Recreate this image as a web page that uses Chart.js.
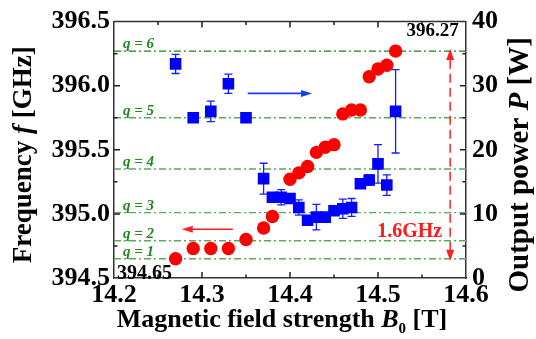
<!DOCTYPE html>
<html><head><meta charset="utf-8">
<script src="https://cdn.jsdelivr.net/npm/chart.js@4"></script>
<style>html,body{margin:0;padding:0;background:#fff}#wrap{width:536px;height:339px}</style>
</head><body><div id="wrap"><canvas id="c" width="536" height="339"></canvas></div>
<script>
// ---- data ----
const freqField = [14.27,14.29,14.31,14.33,14.35,14.37,14.38,14.40,14.41,14.42,14.43,14.44,14.45,14.46,14.47,14.48,14.49,14.50,14.51,14.52];
const freqGHz   = [394.65,394.73,394.73,394.73,394.80,394.89,394.98,395.27,395.32,395.37,395.48,395.52,395.54,395.78,395.81,395.81,396.07,396.13,396.16,396.27];
const powerField = [14.27,14.29,14.31,14.33,14.35,14.37,14.38,14.39,14.40,14.41,14.42,14.43,14.44,14.45,14.46,14.47,14.48,14.49,14.50,14.51,14.52];
const powerW     = [33.4,25.0,26.0,30.3,25.0,15.5,12.6,12.6,12.4,11.0,9.0,9.5,9.5,10.5,10.8,11.0,14.7,15.3,17.8,14.5,26.0];
const powerErr   = [1.5,0,1.6,1.5,0,2.4,0,1.2,0,1.2,0,2.0,0,0,1.5,1.4,0,0.8,3.0,1.6,6.5];
const xTicks = [14.2,14.3,14.4,14.5,14.6];
const freqTicks = [394.5,395.0,395.5,396.0,396.5];
const powerTicks = [0,10,20,30,40];
const modeLabels = ['q = 1','q = 2','q = 3','q = 4','q = 5','q = 6'];
const modeFreq = [394.65,394.79,395.01,395.35,395.75,396.27];
const lowFreqLabel = '394.65';
const highFreqLabel = '396.27';
const gapLabel = '1.6GHz';
// annotation anchors in data units
const arrowPower = {x0:14.352, x1:14.425, y:28.8};
const arrowFreq = {x0:14.335, x1:14.277, y:394.88};
const gapArrow = {x:14.582, y0:394.65, y1:396.27};

const SERIF = '"Liberation Serif","Times New Roman",serif';
const GREEN = '#1f8a1f';

const datasets = [];
modeFreq.forEach((f,i)=>{
  datasets.push({type:'line', data:[{x:14.2,y:f},{x:14.6,y:f}], yAxisID:'yF',
    borderColor: i===5 ? '#1f7f1f' : '#5aaa5a', borderWidth: 1.4, borderDash:[7,3,2,3],
    pointRadius:0, order:5});
});
const blueIndex = datasets.length;
datasets.push({type:'line', showLine:false, data: powerField.map((x,i)=>({x, y:powerW[i]})), yAxisID:'yP',
  pointStyle:'rect', pointRadius:8.2, backgroundColor:'#0000ff', borderColor:'#0000ff', borderWidth:0, order:3});
datasets.push({type:'line', showLine:false, data: freqField.map((x,i)=>({x, y:freqGHz[i]})), yAxisID:'yF',
  pointStyle:'circle', pointRadius:6.7, backgroundColor:'#ff0000', borderColor:'#ff0000', borderWidth:0, order:1});

function richText(ctx, segs, cx, cy, rot){
  ctx.save();
  ctx.translate(cx, cy);
  if (rot) ctx.rotate(rot);
  let total = 0;
  segs.forEach(s=>{ ctx.font = s.font; s.w = ctx.measureText(s.text).width; total += s.w; });
  let x = -total/2;
  ctx.textBaseline = 'middle';
  ctx.textAlign = 'left';
  segs.forEach(s=>{ ctx.font = s.font; ctx.fillStyle = s.color || '#000'; ctx.fillText(s.text, x, s.dy||0); x += s.w; });
  ctx.restore();
}
function arrowHead(ctx, x, y, dx, dy, len, half){
  const L = Math.hypot(dx,dy), ux = dx/L, uy = dy/L;
  ctx.beginPath();
  ctx.moveTo(x, y);
  ctx.lineTo(x - ux*len - uy*half, y - uy*len + ux*half);
  ctx.lineTo(x - ux*len + uy*half, y - uy*len - ux*half);
  ctx.closePath(); ctx.fill();
}

const deco = {
  id:'deco',
  beforeDatasetDraw(chart, args){
    if (args.index !== blueIndex) return;
    const ctx = chart.ctx, xs = chart.scales.x, ys = chart.scales.yP;
    ctx.save(); ctx.strokeStyle = '#1a1aff'; ctx.lineWidth = 1.3;
    powerField.forEach((b,i)=>{
      const e = powerErr[i]; if (!e) return;
      const px = xs.getPixelForValue(b), t = ys.getPixelForValue(powerW[i]+e), btm = ys.getPixelForValue(powerW[i]-e);
      ctx.beginPath(); ctx.moveTo(px,t); ctx.lineTo(px,btm);
      ctx.moveTo(px-4,t); ctx.lineTo(px+4,t); ctx.moveTo(px-4,btm); ctx.lineTo(px+4,btm); ctx.stroke();
    });
    ctx.restore();
  },
  afterDatasetsDraw(chart){
    const ctx = chart.ctx, a = chart.chartArea, xs = chart.scales.x, yF = chart.scales.yF, yP = chart.scales.yP;
    ctx.save();
    // frame top
    ctx.strokeStyle = '#333'; ctx.lineWidth = 1.5;
    ctx.beginPath(); ctx.moveTo(a.left, a.top); ctx.lineTo(a.right, a.top); ctx.stroke();
    // inward ticks
    ctx.lineWidth = 1.5; ctx.strokeStyle = '#222';
    ctx.beginPath();
    for (let v = 14.25; v < 14.6; v += 0.05){
      const major = Math.abs(Math.round(v*10) - v*10) < 1e-6;
      const px = xs.getPixelForValue(v), L = major ? 6 : 3.5;
      ctx.moveTo(px, a.bottom); ctx.lineTo(px, a.bottom - L);
      ctx.moveTo(px, a.top); ctx.lineTo(px, a.top + L);
    }
    for (let v = 394.75; v < 396.5; v += 0.25){
      const major = Math.abs(Math.round(v*2) - v*2) < 1e-6;
      const py = yF.getPixelForValue(v), L = major ? 6 : 3.5;
      ctx.moveTo(a.left, py); ctx.lineTo(a.left + L, py);
    }
    for (let v = 5; v < 40; v += 5){
      const major = v % 10 === 0;
      const py = yP.getPixelForValue(v), L = major ? 6 : 3.5;
      ctx.moveTo(a.right, py); ctx.lineTo(a.right - L, py);
    }
    ctx.stroke();
    // mode labels
    ctx.fillStyle = GREEN; ctx.font = 'italic bold 15px ' + SERIF;
    ctx.textAlign = 'left'; ctx.textBaseline = 'alphabetic';
    modeFreq.forEach((f,i)=>{ ctx.fillText(modeLabels[i], a.left + 9, yF.getPixelForValue(f) - 3); });
    // arrows
    ctx.strokeStyle = '#1a3cff'; ctx.fillStyle = '#1a3cff'; ctx.lineWidth = 1.6;
    let x0 = xs.getPixelForValue(arrowPower.x0), x1 = xs.getPixelForValue(arrowPower.x1), y = yP.getPixelForValue(arrowPower.y);
    ctx.beginPath(); ctx.moveTo(x0,y); ctx.lineTo(x1-8,y); ctx.stroke(); arrowHead(ctx, x1, y, 1, 0, 11, 3.5);
    ctx.strokeStyle = '#ff2020'; ctx.fillStyle = '#ff2020';
    x0 = xs.getPixelForValue(arrowFreq.x0); x1 = xs.getPixelForValue(arrowFreq.x1); y = yF.getPixelForValue(arrowFreq.y);
    ctx.beginPath(); ctx.moveTo(x0,y); ctx.lineTo(x1+8,y); ctx.stroke(); arrowHead(ctx, x1, y, -1, 0, 11, 3.5);
    // vertical dashed gap arrow
    const gx = xs.getPixelForValue(gapArrow.x), gy0 = yF.getPixelForValue(gapArrow.y0), gy1 = yF.getPixelForValue(gapArrow.y1);
    ctx.lineWidth = 1.5; ctx.setLineDash([9,5]);
    ctx.beginPath(); ctx.moveTo(gx, gy0 - 8); ctx.lineTo(gx, gy1 + 8); ctx.stroke(); ctx.setLineDash([]);
    arrowHead(ctx, gx, gy1 - 2, 0, -1, 11, 4);
    arrowHead(ctx, gx, gy0 + 2, 0, 1, 11, 4);
    // text labels
    ctx.fillStyle = '#ff1a1a'; ctx.font = 'bold 20px ' + SERIF; ctx.textAlign = 'center'; ctx.textBaseline = 'middle';
    ctx.fillText(gapLabel, xs.getPixelForValue(14.536), yF.getPixelForValue(394.86));
    ctx.fillStyle = '#000'; ctx.font = 'bold 19px ' + SERIF;
    ctx.fillText(highFreqLabel, xs.getPixelForValue(14.562), yF.getPixelForValue(396.27) - 20);
    ctx.textAlign = 'left'; ctx.font = 'bold 20px ' + SERIF;
    ctx.fillText(lowFreqLabel, a.left + 3, yF.getPixelForValue(394.65) + 15);
    ctx.restore();
    // axis titles
    const B = 'bold 27px ' + SERIF, BI = 'italic bold 27px ' + SERIF;
    richText(ctx, [{text:'Frequency ', font:B},{text:'f', font:BI},{text:' [GHz]', font:B}], 24, (a.top+a.bottom)/2 + 5, -Math.PI/2);
    const R = 'bold 29px ' + SERIF, RI = 'italic bold 29px ' + SERIF;
    richText(ctx, [{text:'Output power ', font:R},{text:'P', font:RI},{text:' [W]', font:R}], 521, (a.top+a.bottom)/2 + 15, -Math.PI/2);
    const XB = 'bold 26px ' + SERIF, XBI = 'italic bold 26px ' + SERIF;
    richText(ctx, [{text:'Magnetic field strength ', font:XB},{text:'B', font:XBI},{text:'0', font:'bold 15px '+SERIF, dy:9},{text:' [T]', font:XB}], 282, 320, 0);
  }
};

const tickFont = {family: SERIF, size: 26, weight: 'bold'};
new Chart(document.getElementById('c'), {
  data: {datasets},
  options: {
    responsive:false, animation:false, devicePixelRatio:1,
    layout:{padding:{top:20, left:0, right:0, bottom:0}},
    plugins:{legend:{display:false}, tooltip:{enabled:false}},
    scales:{
      x:{type:'linear', position:'bottom', min:14.2, max:14.6,
        afterBuildTicks:s=>{s.ticks = xTicks.map(v=>({value:v}));},
        afterFit:s=>{s.height = 61;},
        grid:{display:false, drawTicks:false}, border:{display:true, color:'#333', width:1.5},
        ticks:{font:tickFont, color:'#000', padding:2, maxRotation:0, autoSkip:false, callback:v=>Number(v).toFixed(1)}},
      yF:{type:'linear', position:'left', min:394.5, max:396.5,
        afterBuildTicks:s=>{s.ticks = freqTicks.map(v=>({value:v}));},
        afterFit:s=>{s.width = 114;},
        grid:{display:false, drawTicks:false}, border:{display:true, color:'#333', width:1.5},
        ticks:{font:tickFont, color:'#000', padding:4, autoSkip:false, callback:v=>Number(v).toFixed(1)}},
      yP:{type:'linear', position:'right', min:0, max:40,
        afterBuildTicks:s=>{s.ticks = powerTicks.map(v=>({value:v}));},
        afterFit:s=>{s.width = 70;},
        grid:{display:false, drawTicks:false}, border:{display:true, color:'#333', width:1.5},
        ticks:{font:tickFont, color:'#000', padding:6, autoSkip:false, callback:v=>String(v)}}
    }
  },
  plugins:[deco]
});
</script></body></html>
